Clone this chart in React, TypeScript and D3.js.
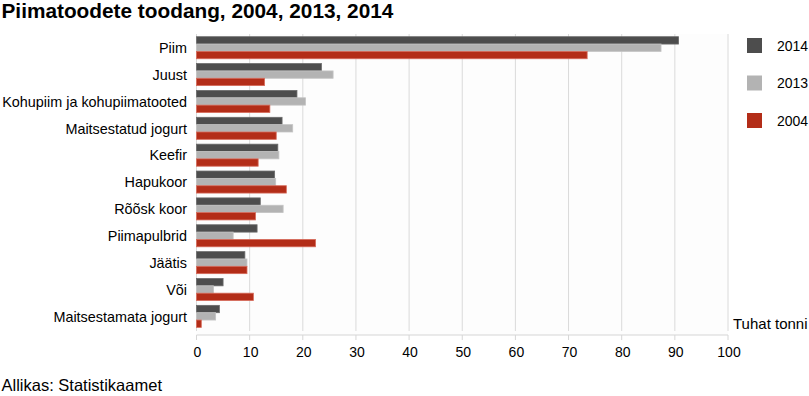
import React from "react";
import * as d3 from "d3";

const categories = [
  "Piim",
  "Juust",
  "Kohupiim ja kohupiimatooted",
  "Maitsestatud jogurt",
  "Keefir",
  "Hapukoor",
  "Rõõsk koor",
  "Piimapulbrid",
  "Jäätis",
  "Või",
  "Maitsestamata jogurt",
];
const seriesNames = ["2014", "2013", "2004"];
const values2014 = [90.7, 23.5, 18.9, 16.1, 15.3, 14.7, 12.0, 11.4, 9.1, 5.0, 4.3];
const values2013 = [87.4, 25.7, 20.5, 18.1, 15.5, 14.9, 16.3, 6.9, 9.5, 3.2, 3.6];
const values2004 = [73.5, 12.8, 13.8, 15.0, 11.6, 16.9, 11.1, 22.4, 9.5, 10.7, 0.9];
const xTicks = [0, 10, 20, 30, 40, 50, 60, 70, 80, 90, 100];
const colors = ["#4d4d4d", "#b3b3b3", "#b32d18"];
const strokes = ["#6a6a6a", "#c4c4c4", "#d66a5a"];

const W = 809;
const H = 396;
const FONT = "'Liberation Sans', Arial, sans-serif";

export default function App() {
  const x = d3.scaleLinear().domain([0, 100]).range([196.5, 728]);
  const y = d3
    .scaleBand<string>()
    .domain(categories)
    .range([34.3, 329.8])
    .paddingInner(0.18)
    .paddingOuter(0.09);
  const sub = d3.scaleBand<string>().domain(seriesNames).range([0, y.bandwidth()]);
  const data = [values2014, values2013, values2004];
  const plotTop = 34;
  const axisY = 335;

  return (
    <svg
      width={W}
      height={H}
      style={{ position: "absolute", left: 0, top: 0, fontFamily: FONT }}
    >
      <rect x={0} y={0} width={W} height={H} fill="#ffffff" />
      <text x={1.5} y={18} fontSize={20.8} fontWeight="bold" fill="#000">
        Piimatoodete toodang, 2004, 2013, 2014
      </text>
      <rect
        x={x(0)}
        y={plotTop}
        width={x(100) - x(0)}
        height={axisY - plotTop}
        fill="#fdfdfd"
      />
      {xTicks.map((t) => (
        <line
          key={"g" + t}
          x1={x(t)}
          x2={x(t)}
          y1={plotTop}
          y2={axisY - 4}
          stroke="#dadada"
          strokeWidth={1}
        />
      ))}
      <line x1={x(0)} x2={x(100)} y1={axisY} y2={axisY} stroke="#d6d6d6" strokeWidth={1.2} />
      {xTicks.map((t) => (
        <g key={"t" + t}>
          <line x1={x(t)} x2={x(t)} y1={axisY} y2={axisY + 5} stroke="#d6d6d6" />
          <text x={x(t) + 1} y={357} fontSize={14} textAnchor="middle" fill="#000">
            {t}
          </text>
        </g>
      ))}
      {categories.map((c, i) => (
        <g key={c}>
          <text
            x={187}
            y={(y(c) as number) + y.bandwidth() / 2 + 5.3}
            fontSize={14.4}
            textAnchor="end"
            fill="#000"
          >
            {c}
          </text>
          {seriesNames.map((s, k) => (
            <rect
              key={s}
              x={x(0)}
              y={(y(c) as number) + (sub(s) as number)}
              width={x(data[k][i]) - x(0)}
              height={sub.bandwidth()}
              fill={colors[k]}
              stroke={strokes[k]}
              strokeWidth={0.8}
            />
          ))}
        </g>
      ))}
      <text x={733} y={329} fontSize={15} fill="#000">
        Tuhat tonni
      </text>
      {seriesNames.map((s, k) => (
        <g key={"l" + s}>
          <rect x={747} y={38 + k * 37.5} width={15} height={15} fill={colors[k]} />
          <text x={777} y={50.5 + k * 37.5} fontSize={14} fill="#000">
            {s}
          </text>
        </g>
      ))}
      <text x={1.5} y={391} fontSize={16.5} fill="#000">
        Allikas: Statistikaamet
      </text>
    </svg>
  );
}
